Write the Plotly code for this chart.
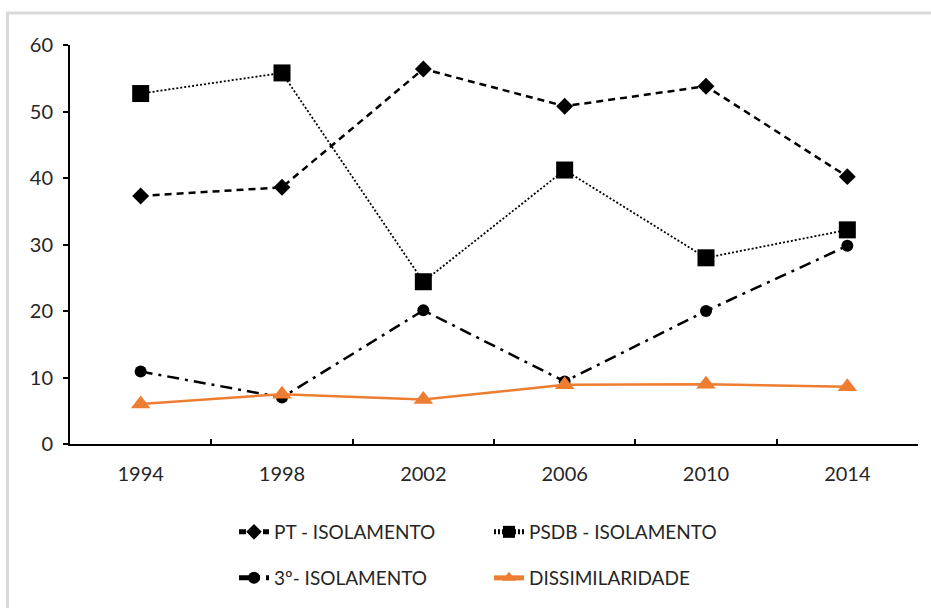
import plotly.graph_objects as go

years = ["1994", "1998", "2002", "2006", "2010", "2014"]
pt_isolamento = [37.3, 38.6, 56.4, 50.8, 53.8, 40.2]
psdb_isolamento = [52.7, 55.8, 24.4, 41.2, 28.0, 32.2]
terceiro_isolamento = [10.9, 7.0, 20.1, 9.4, 20.0, 29.8]
dissimilaridade = [6.0, 7.5, 6.7, 8.9, 9.0, 8.6]

FONT = "Lato, 'Open Sans', sans-serif"
TXT = "#262626"
ORANGE = "#ED7D31"

fig = go.Figure()
fig.add_trace(go.Scatter(
    x=years, y=pt_isolamento, name="PT - ISOLAMENTO", mode="lines+markers",
    line=dict(color="black", width=2.5, dash="7px,5px"),
    marker=dict(symbol="diamond", size=13, color="black"),
    legend="legend"))
fig.add_trace(go.Scatter(
    x=years, y=psdb_isolamento, name="PSDB - ISOLAMENTO", mode="lines+markers",
    line=dict(color="black", width=1.8, dash="2px,2px"),
    marker=dict(symbol="square", size=17, color="black"),
    legend="legend"))
fig.add_trace(go.Scatter(
    x=years, y=terceiro_isolamento, name="3º- ISOLAMENTO", mode="lines+markers",
    line=dict(color="black", width=2.5, dash="12px,6px,3px,6px"),
    marker=dict(symbol="circle", size=12, color="black"),
    legend="legend2"))
fig.add_trace(go.Scatter(
    x=years, y=dissimilaridade, name="DISSIMILARIDADE", mode="lines+markers",
    line=dict(color=ORANGE, width=2.5),
    marker=dict(symbol="triangle-up", size=17, color=ORANGE),
    legend="legend2"))

W, H = 931, 608
L, R, T, B = 70, 13, 45, 163
pw, ph = W - L - R, H - T - B

def px_x(px):
    return (px - L) / pw

def px_y(py):
    return (H - B - py) / ph

leg_common = dict(orientation="h", xanchor="left", yanchor="middle",
                  font=dict(family=FONT, size=19, color=TXT),
                  entrywidth=210, entrywidthmode="pixels",
                  bgcolor="rgba(0,0,0,0)", itemsizing="constant",
                  traceorder="normal")

fig.update_layout(
    width=W, height=H,
    margin=dict(l=L, r=R, t=T, b=B),
    paper_bgcolor="white", plot_bgcolor="white",
    font=dict(family=FONT, size=20, color=TXT),
    showlegend=True,
    legend=dict(x=px_x(234), y=px_y(532), **leg_common),
    legend2=dict(x=px_x(234), y=px_y(578), **leg_common),
    xaxis=dict(type="category", range=[-0.5, 5.5], showline=True,
               linecolor="black", linewidth=2,
               ticks="inside", tickson="boundaries", ticklen=5, tickwidth=2,
               tickcolor="black", showgrid=False, zeroline=False,
               ticklabelstandoff=11,
               tickfont=dict(family=FONT, size=20, color=TXT)),
    yaxis=dict(range=[0, 60], dtick=10, showline=True, linecolor="black",
               linewidth=2, ticks="outside", ticklen=5, tickwidth=2,
               tickcolor="black", showgrid=False, zeroline=False,
               ticklabelstandoff=6,
               tickfont=dict(family=FONT, size=20, color=TXT)),
    shapes=[
        dict(type="line", xref="paper", yref="paper",
             x0=px_x(7.5), x1=px_x(7.5), y0=px_y(13), y1=px_y(620),
             line=dict(color="#d9d9d9", width=3)),
        dict(type="line", xref="paper", yref="paper",
             x0=px_x(6), x1=px_x(940), y0=px_y(13), y1=px_y(13),
             line=dict(color="#d9d9d9", width=3)),
    ],
)

fig.write_html("out.html", config={"displayModeBar": False},
               post_script="document.body.style.margin='0';document.body.style.overflow='hidden';")
